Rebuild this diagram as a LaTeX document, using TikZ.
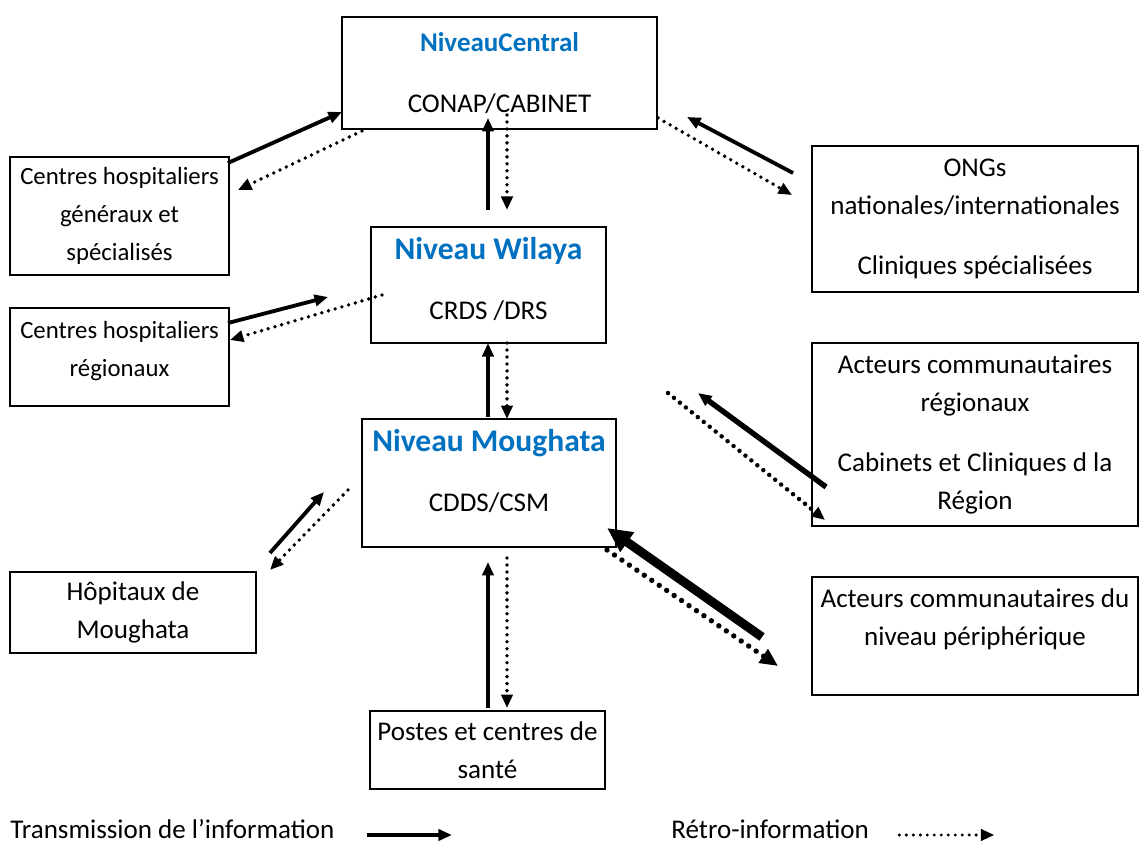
\documentclass[tikz,border=0pt]{standalone}
\usepackage{fontspec}
\setmainfont{Carlito}
\usetikzlibrary{arrows.meta}
\definecolor{niveaublue}{RGB}{0,112,192}
\tikzset{
  unitbox/.style = {draw, line width=0.6pt, outer sep=0pt, inner sep=0pt, align=center, font=\fontsize{12}{16.8}\selectfont},
  sidebox/.style = {unitbox, font=\fontsize{11}{16.8}\selectfont},
  trans/.style   = {-{Triangle[length=6pt,width=5pt]}, line width=1.7pt},
  retro/.style   = {-{Triangle[length=6pt,width=5pt]}, line width=1.7pt, line cap=round, dash pattern=on 0pt off 3.1pt},
  legend/.style  = {anchor=west, inner sep=0pt, font=\fontsize{12}{14}\selectfont}
}
\newcommand{\niveau}[2][14]{{\fontsize{#1}{17}\selectfont\bfseries\color{niveaublue}#2}}

\begin{document}
\begin{tikzpicture}[x=0.444pt, y=-0.444pt]
  \useasboundingbox (0,0) rectangle (1139,843);

  \node[unitbox, minimum width=139.9pt, minimum height=49.7pt] (central) at (499.5,73) {\niveau[12]{NiveauCentral}\\[10pt]CONAP/CABINET};
  \node[unitbox, minimum width=104.3pt, minimum height=51.5pt] (wilaya) at (488.5,285) {\niveau{Niveau Wilaya}\\[10pt]CRDS /DRS\\[-11.1pt]\mbox{}};
  \node[unitbox, minimum width=112.8pt, minimum height=56.8pt] (moughata) at (489,483) {\niveau{Niveau Moughata}\\[10pt]CDDS/CSM\\[-5.7pt]\mbox{}};
  \node[unitbox, minimum width=104.3pt, minimum height=34.6pt] (postes) at (487.5,750) {Postes et centres de\\santé};

  \node[sidebox, minimum width=97.2pt, minimum height=52.4pt] (chg) at (119.5,216) {Centres hospitaliers\\généraux et\\spécialisés};
  \node[sidebox, minimum width=97.2pt, minimum height=43.5pt] (chr) at (119.5,357) {Centres hospitaliers\\régionaux\\[-9.4pt]\mbox{}};
  \node[unitbox, minimum width=109.2pt, minimum height=36pt] (hopital) at (133,612.5) {Hôpitaux de\\Moughata};

  \node[unitbox, minimum width=144.7pt, minimum height=64.8pt] (ong) at (975,219) {ONGs\\nationales/internationales\\[10pt]Cliniques spécialisées};
  \node[unitbox, minimum width=144.7pt, minimum height=81.3pt] (acteurreg) at (975,434.5) {Acteurs communautaires\\régionaux\\[10pt]Cabinets et Cliniques d la\\Région};
  \node[unitbox, minimum width=144.7pt, minimum height=52.4pt] (acteurper) at (975,636) {Acteurs communautaires du\\niveau périphérique\\\mbox{}};

  \draw[trans] ([shift={(-1,6)}]chg.north east) -- ([shift={(0,-17)}]central.south west);
  \draw[retro] ([shift={(20,2)}]central.south west) -- ([shift={(9,33)}]chg.north east);
  \draw[trans] ([shift={(-19,27)}]ong.north west) -- ([shift={(30,-12)}]central.south east);
  \draw[retro] ([shift={(1,-11)}]central.south east) -- ([shift={(-20,49)}]ong.north west);
  \draw[trans] ([shift={(-0.5,-17)}]wilaya.north) -- ([shift={(-11.5,-11)}]central.south);
  \draw[retro] ([shift={(7.5,-14)}]central.south) -- ([shift={(18.5,-17)}]wilaya.north);

  \draw[trans] ([shift={(-1,15)}]chr.north east) -- ([shift={(-43,12)}]wilaya.west);
  \draw[retro] ([shift={(11,10)}]wilaya.west) -- ([shift={(1,32)}]chr.north east);
  \draw[trans] ([shift={(-1,-2)}]moughata.north) -- ([shift={(-0.5,0)}]wilaya.south);
  \draw[retro] ([shift={(18.5,0)}]wilaya.south) -- ([shift={(18,0)}]moughata.north);

  \draw[trans, line width=2.4pt] ([shift={(14,52.5)}]acteurreg.west) -- ([shift={(82,-26)}]moughata.north east);
  \draw[retro, line width=2pt, dash pattern=on 0pt off 3.4pt] ([shift={(52,-26)}]moughata.north east) -- ([shift={(13,-6)}]acteurreg.south west);
  \draw[trans] ([shift={(14,-19)}]hopital.north east) -- ([shift={(-38,9)}]moughata.west);
  \draw[retro] ([shift={(-14,7)}]moughata.west) -- ([shift={(14,-2)}]hopital.north east);
  \draw[trans, line width=4pt, -{Triangle[length=11pt,width=10pt]}] ([shift={(-50,1)}]acteurper.west) -- ([shift={(-9,-19)}]moughata.south east);
  \draw[retro, line width=2.4pt, dash pattern=on 0pt off 4pt, -{Triangle[length=8pt,width=7pt]}] ([shift={(-9,3)}]moughata.south east) -- ([shift={(-34,30)}]acteurper.west);
  \draw[trans] ([shift={(0.5,-3)}]postes.north) -- ([shift={(-1,15)}]moughata.south);
  \draw[retro] ([shift={(18,11)}]moughata.south) -- ([shift={(19.5,-3)}]postes.north);

  \node[legend] (lgtrans) at (10,829) {Transmission de l’information};
  \node[legend] (lgretro) at (671,829) {Rétro-information};
  \draw[trans, line width=1.4pt] ([shift={(32,6)}]lgtrans.east) -- ([shift={(117,6)}]lgtrans.east);
  \draw[retro, line width=1.5pt] ([shift={(30,6)}]lgretro.east) -- ([shift={(125,6)}]lgretro.east);
\end{tikzpicture}
\end{document}
